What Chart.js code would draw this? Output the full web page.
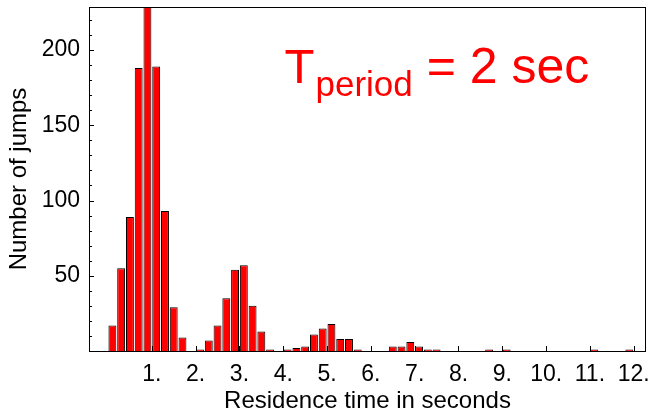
<!DOCTYPE html>
<html>
<head>
<meta charset="utf-8">
<script src="https://cdn.jsdelivr.net/npm/chart.js@4.4.1/dist/chart.umd.min.js"></script>
<style>
  body { margin: 0; background: #fff; }
  canvas { display: block; }
</style>
</head>
<body>
<canvas id="myChart" width="654" height="413"></canvas>
<script>
// histogram bins (centre of each 0.2 s bin) and counts
const binCenter = [0.1, 0.3, 0.5, 0.7, 0.9, 1.1, 1.3, 1.5, 1.7,
                   2.1, 2.3, 2.5, 2.7, 2.9, 3.1, 3.3, 3.5, 3.7,
                   4.1, 4.3, 4.5, 4.7, 4.9, 5.1, 5.3, 5.5, 5.7,
                   6.5, 6.7, 6.9, 7.1, 7.3, 7.5,
                   8.7, 9.1, 11.1, 11.9];
const counts = [17, 55, 89, 188, 240, 189, 93, 29, 9,
                1, 7, 17, 35, 54, 57, 30, 13, 1,
                1, 2, 3, 11, 15, 18, 8, 8, 1,
                3, 3, 6, 3, 1, 1,
                1, 1, 1, 1];

// ticks
const xTickValues = [1, 2, 3, 4, 5, 6, 7, 8, 9, 10, 11, 12];
const xTickLabels = ["1.", "2.", "3.", "4.", "5.", "6.", "7.", "8.", "9.", "10.", "11.", "12."];
const yTickValues = [50, 100, 150, 200];
const yMinorTicks = [10, 20, 30, 40, 50, 60, 70, 80, 90, 100, 110, 120, 130, 140, 150,
                     160, 170, 180, 190, 200, 210, 220];

const fontFam = "'Liberation Sans', Arial, sans-serif";

//marco, marcas hacia dentro y el texto en rojo
const extras = {
  id: 'extras',
  afterDraw(chart) {
    const ctx = chart.ctx;
    const a = chart.chartArea;
    const xs = chart.scales.x, ys = chart.scales.y;
    ctx.save();
    ctx.strokeStyle = '#000';
    ctx.lineWidth = 1;
    ctx.beginPath();
    xTickValues.forEach(v => {
      const px = Math.round(xs.getPixelForValue(v)) + 0.5;
      ctx.moveTo(px, a.bottom);
      ctx.lineTo(px, a.bottom - 5);
    });
    yMinorTicks.forEach(v => {
      const py = Math.round(ys.getPixelForValue(v)) + 0.5;
      const len = (v % 50 === 0) ? 5 : 3;
      ctx.moveTo(a.left, py);
      ctx.lineTo(a.left + len, py);
    });
    ctx.stroke();
    ctx.strokeRect(a.left + 0.5, a.top + 0.5, a.right - a.left - 1, a.bottom - a.top);

    // T_period = 2 sec
    let tx = xs.getPixelForValue(4.03);
    const base = ys.getPixelForValue(178);
    ctx.fillStyle = '#ff0000';
    ctx.textBaseline = 'alphabetic';
    ctx.textAlign = 'left';
    ctx.font = '49px ' + fontFam;
    ctx.fillText('T', tx, base);
    tx += ctx.measureText('T').width + 1;
    ctx.font = '35px ' + fontFam;
    ctx.fillText('period', tx, base + 13);
    tx += ctx.measureText('period').width;
    ctx.font = '50px ' + fontFam;
    ctx.fillText(' = 2 sec', tx, base);
    ctx.restore();
  }
};

const noPad = s => { s.paddingTop = 0; s.paddingBottom = 0; s.paddingLeft = 0; s.paddingRight = 0; };

const ctx = document.getElementById('myChart').getContext('2d');
const myChart = new Chart(ctx, {
  type: 'bar',
  data: {
    datasets: [{
      data: binCenter.map((c, i) => ({ x: c, y: counts[i] })),
      backgroundColor: '#ff0000',
      borderColor: '#000000',
      borderWidth: 1,
      borderSkipped: 'start',
      barPercentage: 0.9,
      categoryPercentage: 1.0,
      clip: 0
    }]
  },
  options: {
    responsive: false,
    animation: false,
    layout: { padding: { top: 7, right: 8, left: 0, bottom: 0 } },
    plugins: { legend: { display: false }, tooltip: { enabled: false } },
    scales: {
      x: {
        type: 'linear',
        min: -0.434,
        max: 12.28,
        offset: false,
        grid: { display: false, drawTicks: false, offset: false },
        border: { display: false },
        afterBuildTicks: s => { s.ticks = xTickValues.map(v => ({ value: v })); },
        afterFit: s => { s.height = 62; noPad(s); },
        ticks: {
          autoSkip: false,
          maxRotation: 0,
          padding: 10,
          color: '#000',
          font: { family: fontFam, size: 23 },
          callback: (v) => xTickLabels[xTickValues.indexOf(v)]
        },
        title: {
          display: true,
          text: 'Residence time in seconds',
          color: '#000',
          font: { family: fontFam, size: 24, lineHeight: 1 },
          padding: 0
        }
      },
      y: {
        min: 0,
        max: 228.6,
        grid: { display: false, drawTicks: false },
        border: { display: false },
        afterBuildTicks: s => { s.ticks = yTickValues.map(v => ({ value: v })); },
        afterFit: s => { s.width = 89; noPad(s); },
        ticks: {
          padding: 9,
          color: '#000',
          font: { family: fontFam, size: 23 }
        },
        title: {
          display: true,
          text: 'Number of jumps',
          color: '#000',
          font: { family: fontFam, size: 24, lineHeight: 1 },
          padding: { top: 7 }
        }
      }
    }
  },
  plugins: [extras]
});
</script>
</body>
</html>
